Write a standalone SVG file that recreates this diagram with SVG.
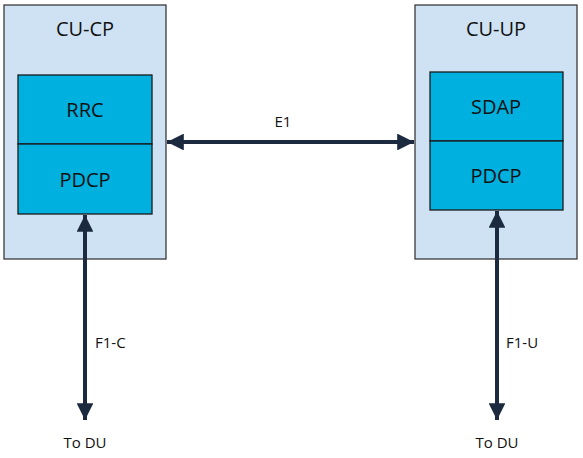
<svg xmlns="http://www.w3.org/2000/svg" width="583" height="458" viewBox="0 0 583 458">
<style>
.outer{fill:#cfe2f3;stroke:#3a3a3a;stroke-width:1.3}
.layer{fill:#00b0df;stroke:#1a1a1a;stroke-width:1.3}
.t{font-family:"Open Sans","Noto Sans",sans-serif;font-size:20px;fill:#111;text-anchor:middle}
.l{font-family:"Open Sans","Noto Sans",sans-serif;font-size:15px;fill:#111}
.c{stroke:#1c2a3f;stroke-width:4;fill:none}
</style>
<defs>
<marker id="ah" viewBox="0 0 10 10" refX="10" refY="5" markerWidth="5.5" markerHeight="4.2" orient="auto-start-reverse" markerUnits="strokeWidth">
<path d="M0,0 L10,5 L0,10 Z" fill="#1c2a3f"/>
</marker>
</defs>
<g id="cu-cp">
<rect class="outer" x="4" y="5" width="162" height="254"/>
<text class="t" x="85" y="36">CU-CP</text>
</g>
<g id="rrc">
<rect class="layer" x="18" y="75" width="134" height="69"/>
<text class="t" x="85" y="117">RRC</text>
</g>
<g id="pdcp-cp">
<rect class="layer" x="18" y="144" width="134" height="70"/>
<text class="t" x="85" y="187">PDCP</text>
</g>
<g id="cu-up">
<rect class="outer" x="415" y="5" width="162" height="254"/>
<text class="t" x="496" y="36">CU-UP</text>
</g>
<g id="sdap">
<rect class="layer" x="430" y="72" width="133" height="69"/>
<text class="t" x="496" y="114">SDAP</text>
</g>
<g id="pdcp-up">
<rect class="layer" x="430" y="141" width="133" height="69"/>
<text class="t" x="496" y="183">PDCP</text>
</g>
<g id="connectors">
<line class="c" x1="167" y1="142" x2="414" y2="142" marker-start="url(#ah)" marker-end="url(#ah)"/>
<line class="c" x1="85" y1="215" x2="85" y2="420" marker-start="url(#ah)" marker-end="url(#ah)"/>
<line class="c" x1="497" y1="211" x2="497" y2="420" marker-start="url(#ah)" marker-end="url(#ah)"/>
<text class="l" x="283" y="127" text-anchor="middle">E1</text>
<text class="l" x="95" y="348">F1-C</text>
<text class="l" x="506" y="348">F1-U</text>
<text class="l" x="85" y="448" text-anchor="middle">To DU</text>
<text class="l" x="497" y="448" text-anchor="middle">To DU</text>
</g>
</svg>
